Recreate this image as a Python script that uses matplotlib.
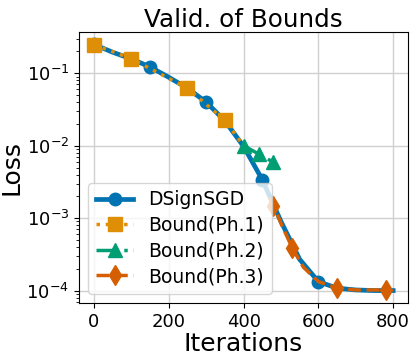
import numpy as np
import matplotlib
matplotlib.use("Agg")
import matplotlib.pyplot as plt

# DSignSGD loss curve
sgd_iters = [0, 50, 100, 150, 200, 250, 300, 350, 400, 450, 500, 550, 600, 650, 700, 750, 800]
sgd_loss = [0.25, 0.195, 0.158, 0.122, 0.088, 0.062, 0.040, 0.022, 0.0098, 0.0034,
            0.0009, 0.00027, 0.000133, 0.000108, 0.000102, 0.0001, 0.0001]
sgd_marks = [0, 3, 6, 9, 12]

# Phase bounds
ph1_iters = [0, 100, 250, 350, 400]
ph1_loss = [0.248, 0.159, 0.062, 0.0224, 0.0100]
ph1_marks = [0, 1, 2, 3]

ph2_iters = [400, 440, 480]
ph2_loss = [0.0100, 0.0077, 0.0059]

ph3_iters = [470, 480, 500, 530, 560, 600, 650, 700, 780, 790]
ph3_loss = [0.0019, 0.00148, 0.00085, 0.00039, 0.00021, 0.000133, 0.000108, 0.000102, 0.000102, 0.0001]
ph3_marks = [1, 3, 6, 8]

colors = {"sgd": "#0173B2", "ph1": "#DE8F05", "ph2": "#029E73", "ph3": "#D55E00"}

fig, ax = plt.subplots(figsize=(4.16, 3.61), dpi=100)

ax.plot(sgd_iters, sgd_loss, color=colors["sgd"], lw=3.4, marker="o", ms=9,
        markevery=sgd_marks, label="DSignSGD", zorder=2)
ax.plot(ph1_iters, ph1_loss, color=colors["ph1"], lw=2.5, ls=":", marker="s", ms=9.5,
        markevery=ph1_marks, label="Bound(Ph.1)", zorder=3)
ax.plot(ph2_iters, ph2_loss, color=colors["ph2"], lw=2.5, ls="-.", marker="^", ms=9.5,
        label="Bound(Ph.2)", zorder=3)
ax.plot(ph3_iters, ph3_loss, color=colors["ph3"], lw=2.5, ls="--", marker="d", ms=10,
        markevery=ph3_marks, label="Bound(Ph.3)", zorder=3)

ax.set_yscale("log")
ax.set_title("Valid. of Bounds", fontsize=17.7, pad=4)
ax.set_xlabel("Iterations", fontsize=18, labelpad=1)
ax.set_ylabel("Loss", fontsize=18, labelpad=2)
ax.set_xticks([0, 200, 400, 600, 800])
ax.tick_params(labelsize=13)
ax.grid(True, color="#d0d0d0", lw=1)
ax.legend(loc="lower left", fontsize=13.5, handlelength=2.0, handletextpad=0.8,
          labelspacing=0.35, framealpha=0.8)

fig.subplots_adjust(left=0.19, right=0.981, bottom=0.161, top=0.911)
fig.savefig("out.png", dpi=100, facecolor="white")
